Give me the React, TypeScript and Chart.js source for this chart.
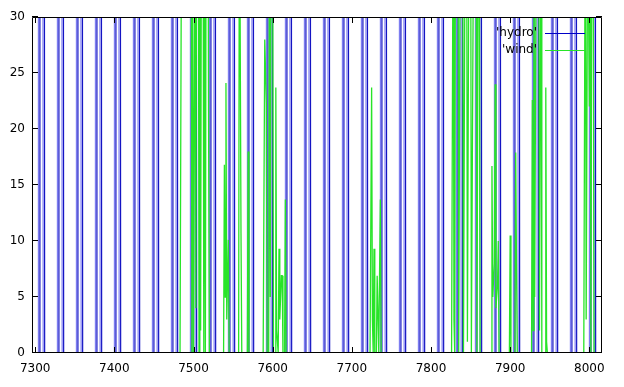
import React, { useEffect, useRef } from "react";
import { Chart, registerables } from "chart.js";

Chart.register(...registerables);

// ---- axes ----
const xTicks = [7300, 7400, 7500, 7600, 7700, 7800, 7900, 8000];
const yTicks = [0, 5, 10, 15, 20, 25, 30];
const xMin = 7296;
const xMax = 8016;
const yMin = 0;
const yMax = 30;

// ---- 'hydro': daily pulses (hour the rise starts, hour the fall starts), level far above the plotted range ----
const hydroStart = [7305, 7329, 7353, 7377, 7401, 7425, 7449, 7473, 7497, 7521, 7545, 7569, 7593, 7617, 7641, 7665, 7689, 7713, 7737, 7761, 7785, 7809, 7833, 7857, 7881, 7905, 7929, 7953, 7977, 8001];
const hydroEnd = [7311, 7335, 7359, 7383, 7407, 7431, 7455, 7479, 7503, 7527, 7551, 7575, 7599, 7623, 7647, 7671, 7695, 7719, 7743, 7767, 7791, 7815, 7839, 7863, 7887, 7911, 7935, 7959, 7983, 8007];
const hydroPeak = 120;

// ---- 'wind' ----
const windHours = [
  7296,
  7483, 7485, 7497, 7498, 7499, 7500, 7502, 7503, 7504, 7506, 7507, 7508, 7509, 7510, 7512, 7513, 7514, 7515, 7516, 7518, 7519, 7520,
  7538, 7539, 7540, 7541, 7542, 7544, 7545,
  7557, 7558, 7560, 7561,
  7568, 7569, 7570,
  7588, 7590, 7592, 7593, 7595, 7596, 7597, 7598, 7600, 7601, 7603, 7604, 7605, 7607, 7608, 7609, 7611, 7612, 7613, 7615, 7616, 7617,
  7723, 7725, 7726, 7727, 7728, 7729, 7731, 7732, 7733, 7734, 7736, 7737,
  7826, 7828, 7829, 7830, 7831, 7834, 7835, 7837, 7840, 7841, 7843, 7845, 7846, 7848, 7850, 7851, 7854, 7857, 7858, 7860, 7861, 7862,
  7876, 7877, 7878, 7880, 7881, 7882, 7884, 7885, 7886, 7899, 7900, 7901, 7906, 7907, 7908, 7909,
  7927, 7928, 7929, 7930, 7931, 7933, 7936, 7937, 7939, 7940, 7944, 7945, 7946, 7947,
  7993, 7995, 7996, 7998, 8000, 8001, 8002, 8003, 8005, 8006,
  8016,
];
const windValues = [
  0,
  0, 42, 45, 0, 38, 0, 40, 4, 44, 48, 0, 36, 2, 41, 47, 0, 39, 0, 43, 55, 21.7, 0,
  0, 16.8, 5, 24.1, 3, 10.1, 0,
  0, 46, 10.7, 0,
  0, 18, 0,
  0, 28, 22.3, 0, 0, 44, 5, 46, 40, 0, 0, 23.7, 2, 0, 9.3, 3, 6.9, 6.9, 0, 0, 13.7, 0,
  0, 23.7, 3, 0, 9.3, 0, 0, 6.9, 6.9, 0, 13.7, 0,
  0, 42, 3, 0, 45, 50, 0, 40, 44, 0, 38, 42, 1, 40, 46, 0, 42, 36, 0, 45, 38, 0,
  0, 16.7, 5, 8, 24, 4, 6, 10, 0, 0, 10.5, 0, 0, 17.9, 8, 0,
  0, 22.6, 2, 45, 5, 40, 48, 2, 41, 0, 0, 23.7, 1, 0,
  0, 45, 3, 40, 22, 48, 0, 38, 30, 0,
  0,
];

const legendLabels = ["'hydro'", "'wind'"];
const hydroColor = "rgb(20,20,195)";
const hydroHalo = "rgb(125,125,240)";
const windColor = "rgb(40,228,40)";
const FONT = '"DejaVu Sans", "Liberation Sans", sans-serif';

function buildHydro() {
  const pts: { x: number; y: number }[] = [{ x: xMin, y: 0 }];
  hydroStart.forEach((s, i) => {
    const e = hydroEnd[i];
    pts.push({ x: s, y: 0 }, { x: s + 1, y: hydroPeak }, { x: e, y: hydroPeak }, { x: e + 1, y: 0 });
  });
  pts.push({ x: xMax, y: 0 });
  return pts;
}

function buildWind() {
  return windHours.map((h, i) => ({ x: h, y: windValues[i] }));
}

// light halo on the left of each blue stroke, like the antialiased gnuplot lines
const hydroHaloPlugin = {
  id: "hydroHalo",
  beforeDatasetDraw(chart: any, args: any) {
    if (args.index !== 1) return;
    const ctx = chart.ctx;
    ctx.save();
    ctx.shadowColor = hydroHalo;
    ctx.shadowOffsetX = -1.5;
    ctx.shadowOffsetY = 0;
    ctx.shadowBlur = 0;
  },
  afterDatasetDraw(chart: any, args: any) {
    if (args.index !== 1) return;
    chart.ctx.restore();
  },
};

const gnuFrame = {
  id: "gnuFrame",
  afterDatasetsDraw(chart: any) {
    const { ctx, chartArea: a, scales } = chart;
    const sx = scales.x;
    const sy = scales.y;
    ctx.save();
    ctx.strokeStyle = "#000";
    ctx.lineWidth = 1;
    ctx.beginPath();
    ctx.rect(a.left + 0.5, a.top + 0.5, a.right - a.left - 1, a.bottom - a.top - 1);
    const t = 6;
    xTicks.forEach((v) => {
      const px = Math.round(sx.getPixelForValue(v)) + 0.5;
      ctx.moveTo(px, a.bottom);
      ctx.lineTo(px, a.bottom - t);
      ctx.moveTo(px, a.top);
      ctx.lineTo(px, a.top + t);
    });
    yTicks.forEach((v) => {
      const py = Math.round(sy.getPixelForValue(v)) - 0.5;
      ctx.moveTo(a.left, py);
      ctx.lineTo(a.left + t, py);
      ctx.moveTo(a.right, py);
      ctx.lineTo(a.right - t, py);
    });
    ctx.stroke();

    // key (top right, like gnuplot)
    ctx.font = "12px " + FONT;
    ctx.fillStyle = "#000";
    ctx.textAlign = "right";
    ctx.textBaseline = "middle";
    const colors = ["rgb(0,0,200)", windColor];
    legendLabels.forEach((lab, i) => {
      const yy = a.top + 16 + i * 17;
      ctx.fillText(lab, 537, yy);
      ctx.beginPath();
      ctx.strokeStyle = colors[i];
      ctx.moveTo(545, yy + 0.5);
      ctx.lineTo(585, yy + 0.5);
      ctx.stroke();
    });
    ctx.restore();
  },
};

export default function App() {
  const ref = useRef<HTMLCanvasElement>(null);
  useEffect(() => {
    if (!ref.current) return;
    const chart = new Chart(ref.current, {
      type: "line",
      data: {
        datasets: [
          {
            label: legendLabels[1],
            data: buildWind(),
            borderColor: windColor,
            borderWidth: 1.3,
            pointRadius: 0,
            tension: 0,
            clip: 0,
          } as any,
          {
            label: legendLabels[0],
            data: buildHydro(),
            borderColor: hydroColor,
            borderWidth: 1.2,
            pointRadius: 0,
            tension: 0,
            clip: 0,
          } as any,
        ],
      },
      options: {
        animation: false,
        responsive: false,
        devicePixelRatio: 1,
        parsing: false as any,
        layout: { padding: { top: 17, right: 22, left: 0, bottom: 0 } },
        plugins: { legend: { display: false }, tooltip: { enabled: false } },
        events: [],
        scales: {
          x: {
            type: "linear",
            min: xMin,
            max: xMax,
            afterBuildTicks: (s: any) => {
              s.ticks = xTicks.map((v) => ({ value: v }));
            },
            afterFit: (s: any) => {
              s.height = 34;
            },
            ticks: {
              autoSkip: false,
              maxRotation: 0,
              padding: 9,
              color: "#000",
              font: { family: FONT, size: 12 },
              callback: (v: any) => String(v),
            },
            grid: { display: false, drawTicks: false },
            border: { display: false },
          },
          y: {
            type: "linear",
            min: yMin,
            max: yMax,
            afterBuildTicks: (s: any) => {
              s.ticks = yTicks.map((v) => ({ value: v }));
            },
            afterFit: (s: any) => {
              s.width = 32;
            },
            ticks: {
              padding: 7,
              color: "#000",
              font: { family: FONT, size: 12 },
              callback: (v: any) => String(v),
            },
            grid: { display: false, drawTicks: false },
            border: { display: false },
          },
        },
      },
      plugins: [hydroHaloPlugin, gnuFrame],
    });
    return () => chart.destroy();
  }, []);
  return (
    <div style={{ position: "fixed", left: 0, top: 0, width: 624, height: 387, background: "#fff" }}>
      <canvas ref={ref} width={624} height={387} style={{ display: "block" }} />
    </div>
  );
}
